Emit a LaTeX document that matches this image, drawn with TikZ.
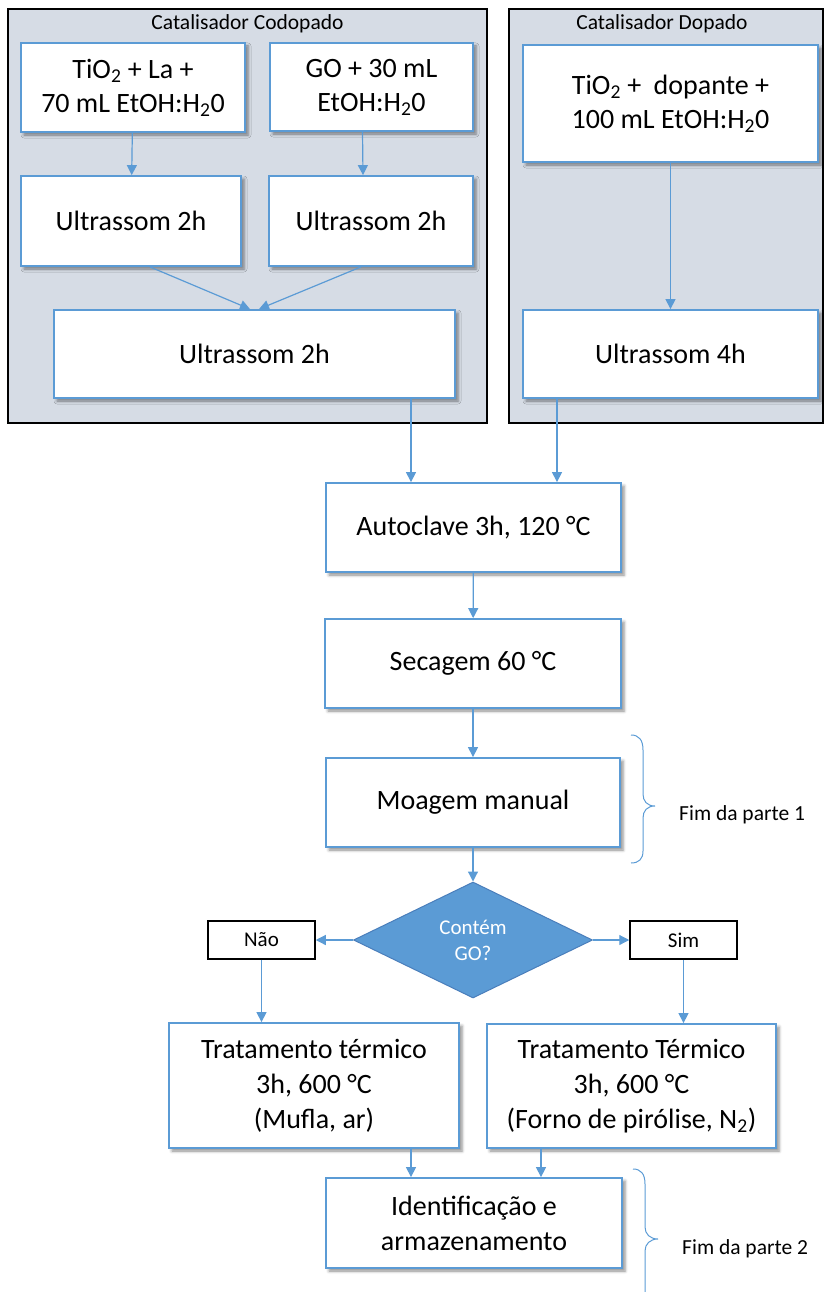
\documentclass[tikz,border=0pt]{standalone}
\usepackage{fontspec}
\setmainfont{Carlito}
\usetikzlibrary{shapes.geometric,arrows.meta,shadows.blur}

\definecolor{boxblue}{HTML}{5B9BD5}
\definecolor{dkblue}{HTML}{4A7EBB}
\definecolor{groupfill}{HTML}{D6DCE5}

\tikzset{
  proc/.style={draw=boxblue, line width=1.8pt, fill=white, align=center,
    inner sep=0pt, font=\fontsize{28}{34}\selectfont,
    blur shadow={shadow xshift=3pt, shadow yshift=-3pt,
      shadow blur radius=3pt, shadow opacity=45}},
  sz/.style 2 args={minimum width=#1, minimum height=#2},
  group/.style={draw=black, line width=1.5pt, fill=groupfill, inner sep=0pt},
  grouptitle/.style={font=\fontsize{21.5}{26}\selectfont, inner sep=0pt},
  answer/.style={draw=black, line width=1.5pt, fill=white, inner sep=0pt,
    font=\fontsize{21}{26}\selectfont},
  decision/.style={diamond, draw=dkblue, line width=1pt, fill=boxblue,
    text=white, align=center, inner sep=0pt,
    font=\fontsize{21}{26}\selectfont},
  arr/.style={draw=boxblue, line width=1.2pt,
    -{Triangle[length=10pt,width=10pt]}},
  bracepath/.style={draw=boxblue, line width=1pt},
  note/.style={font=\fontsize{21.5}{26}\selectfont, inner sep=0pt, anchor=west}
}

\begin{document}
\begin{tikzpicture}[x=1pt,y=-1pt]
\useasboundingbox (0,0) rectangle (825,1292);
\clip (0,0) rectangle (825,1292);

% grouping panels
\node[group, sz={479}{414}] (grpL) at (247.5,216) {};
\node[group, sz={314}{414}] (grpR) at (666,216) {};
\node[grouptitle] (titL) at (247.5,24) {Catalisador Codopado};
\node[grouptitle] (titR) at (662,24) {Catalisador Dopado};

% co-doped branch
\node[proc, sz={224}{89}] (a1) at (133,87.5)
  {TiO\textsubscript{2} + La +\\70 mL EtOH:H\textsubscript{2}0};
\node[proc, sz={203}{88}] (a2) at (371.5,87)
  {GO + 30 mL\\EtOH:H\textsubscript{2}0};
\node[proc, sz={220}{90}] (b1) at (131,221) {Ultrassom 2h};
\node[proc, sz={204}{90}] (b2) at (371,221) {Ultrassom 2h};
\node[proc, sz={401}{88}] (c) at (254.5,354) {Ultrassom 2h};

% doped branch
\node[proc, sz={295}{117}] (d1) at (670.5,103.5)
  {TiO\textsubscript{2} +\hspace{0.22em} dopante +\\100 mL EtOH:H\textsubscript{2}0};
\node[proc, sz={295}{88}] (d2) at (670.5,354) {Ultrassom 4h};

% common steps
\node[proc, sz={295}{89}] (e) at (473.5,527.5) {Autoclave 3h, 120 °C};
\node[proc, sz={296}{89}] (f) at (473,663.5) {Secagem 60 °C};
\node[proc, sz={294}{89}] (g) at (473,802.5) {Moagem manual};

\node[decision, sz={239}{116}] (q) at (473,940) {Contém\\GO?};
\node[answer, sz={107}{38}] (nao) at (261.5,940) {Não};
\node[answer, sz={107}{38}] (sim) at (683.5,940) {Sim};

\node[proc, sz={290}{125}, font=\fontsize{28}{35}\selectfont] (h) at (314,1085.5)
  {Tratamento térmico\\3h, 600 °C\\(Mufla, ar)};
\node[proc, sz={289}{124}, font=\fontsize{28}{35}\selectfont] (i) at (631.5,1086)
  {Tratamento Térmico\\3h, 600 °C\\(Forno de pirólise, N\textsubscript{2})};
\node[proc, sz={296}{90}, font=\fontsize{28}{35}\selectfont] (j) at (474,1223)
  {Identificação e\\armazenamento};

% guide columns for the offset connectors
\coordinate (xa) at (411,0);
\coordinate (xb) at (557,0);
\coordinate (xc) at (541,0);

% connectors
\draw[arr] (a1) -- (b1);
\draw[arr] ([xshift=-9pt]a2.south) -- ([xshift=-8pt]b2.north);
\draw[arr] ([xshift=19pt]b1.south) -- ([xshift=-4.5pt]c.north);
\draw[arr] ([xshift=-10pt]b2.south) -- ([xshift=4.5pt]c.north);
\draw[arr] (d1) -- (d2);
\draw[arr] (c.south -| xa) -- (e.north -| xa);
\draw[arr] (d2.south -| xb) -- (e.north -| xb);
\draw[arr] (e) -- (f);
\draw[arr] (f) -- (g);
\draw[arr] (g) -- (q);
\draw[arr] (q.west) -- (nao.east);
\draw[arr] (q.east) -- (sim.west);
\draw[arr] (nao.south) -- (nao.south |- h.north);
\draw[arr] (sim.south) -- (sim.south |- i.north);
\draw[arr] (h.south -| xa) -- (j.north -| xa);
\draw[arr] (i.south -| xc) -- (j.north -| xc);

% braces marking the end of each part
\draw[bracepath] (631,735) .. controls (639,735) and (643,740) .. (643,750)
  -- (643,794) .. controls (643,801) and (647,806) .. (655,806)
  .. controls (647,806) and (643,811) .. (643,818)
  -- (643,851) .. controls (643,859) and (639,863) .. (631,863);
\node[note] (p1) at (679,815) {Fim da parte 1};

\draw[bracepath] (633,1169) .. controls (641,1169) and (645,1174) .. (645,1184)
  -- (645,1227) .. controls (645,1234) and (650,1239) .. (658,1239)
  .. controls (650,1239) and (645,1244) .. (645,1251)
  -- (645,1294) .. controls (645,1304) and (641,1309) .. (633,1309);
\node[note] (p2) at (682,1249) {Fim da parte 2};
\end{tikzpicture}
\end{document}
